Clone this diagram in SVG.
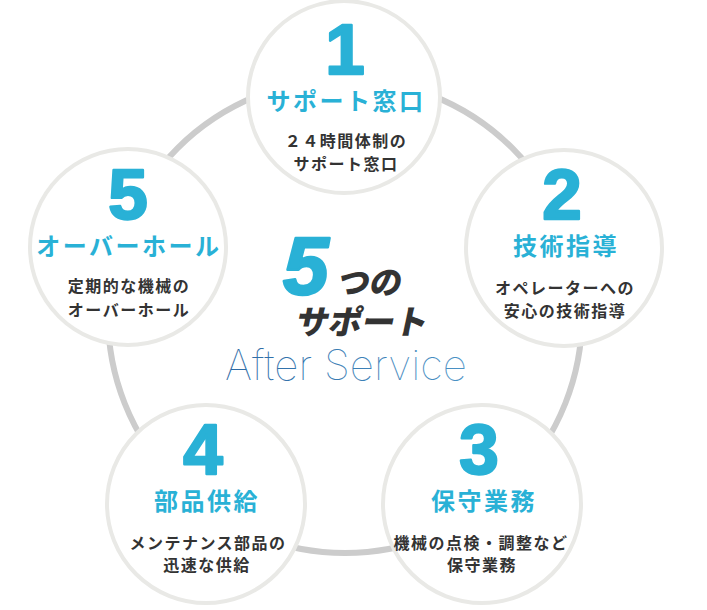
<svg xmlns="http://www.w3.org/2000/svg" width="707" height="610" viewBox="0 0 707 610">
<defs>
<style>
.ring{fill:none;stroke:#cccccc;stroke-width:6}
.node{fill:#ffffff;stroke:#e9e9e6;stroke-width:4}
.num{font-family:"Liberation Sans",Arial,sans-serif;font-weight:700;font-size:71px;fill:#29b1d6;stroke:#29b1d6;stroke-width:2.4px;stroke-linejoin:round;text-anchor:middle}
.ttl{font-family:"Noto Sans CJK JP","Noto Sans",sans-serif;font-weight:700;font-size:24px;fill:#29b1d6;text-anchor:middle;letter-spacing:2.5px}
.sub{font-family:"Noto Sans CJK JP","Noto Sans",sans-serif;font-weight:700;font-size:16px;fill:#333333;text-anchor:middle;letter-spacing:1.5px}
.jp{font-family:"Noto Sans CJK JP","Noto Sans",sans-serif;font-weight:900;fill:#333333}
</style>
<linearGradient id="blue" x1="0" y1="0" x2="1" y2="0">
<stop offset="0" stop-color="#2b68a3"/>
<stop offset="1" stop-color="#4b93c6"/>
</linearGradient>
</defs>
<g id="connectors">
<circle class="ring" cx="345" cy="316" r="237"/>
</g>
<g id="node1">
<circle class="node" cx="344" cy="97" r="96"/>
<text class="num" x="345" y="74">1</text>
<text class="ttl" x="346" y="110">サポート窓口</text>
<text class="sub" x="346" y="147">２４時間体制の</text>
<text class="sub" x="346" y="170">サポート窓口</text>
</g>
<g id="node2">
<circle class="node" cx="564" cy="248" r="98"/>
<text class="num" x="562" y="219">2</text>
<text class="ttl" x="566" y="255">技術指導</text>
<text class="sub" x="565" y="294">オペレーターへの</text>
<text class="sub" x="565" y="317">安心の技術指導</text>
</g>
<g id="node3">
<circle class="node" cx="482" cy="504" r="99"/>
<text class="num" x="479" y="474">3</text>
<text class="ttl" x="484" y="510">保守業務</text>
<text class="sub" x="481" y="549">機械の点検・調整など</text>
<text class="sub" x="482" y="571">保守業務</text>
</g>
<g id="node4">
<circle class="node" cx="206" cy="504" r="99"/>
<text class="num" x="203" y="474">4</text>
<text class="ttl" x="207" y="510">部品供給</text>
<text class="sub" x="208" y="549">メンテナンス部品の</text>
<text class="sub" x="207" y="571">迅速な供給</text>
</g>
<g id="node5">
<circle class="node" cx="128" cy="247" r="98"/>
<text class="num" x="128" y="219">5</text>
<text class="ttl" x="129" y="255">オーバーホール</text>
<text class="sub" x="129" y="292">定期的な機械の</text>
<text class="sub" x="129" y="316">オーバーホール</text>
</g>
<g id="center">
<text x="283" y="294" font-family="Liberation Sans,Arial,sans-serif" font-weight="700" font-style="italic" font-size="82" fill="#29b1d6" stroke="#29b1d6" stroke-width="2.5" stroke-linejoin="round">5</text>
<text class="jp" font-size="32" transform="translate(336,294) skewX(-12)">つの</text>
<text class="jp" font-size="33" transform="translate(294,334) skewX(-12)">サポート</text>
<text x="225" y="380" font-family="Inter,Lato,sans-serif" font-weight="100" font-size="42" fill="url(#blue)" textLength="242" lengthAdjust="spacingAndGlyphs">After Service</text>
</g>
</svg>
